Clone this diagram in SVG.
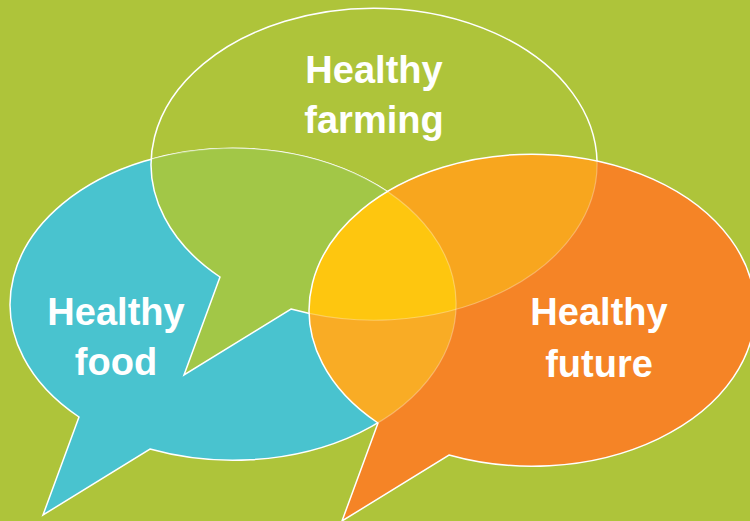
<svg xmlns="http://www.w3.org/2000/svg" width="750" height="521" viewBox="0 0 750 521">
<style>
.edge{fill:none;stroke:#fff;stroke-width:1.5}
.faint{fill:none;stroke:#fff;stroke-opacity:0.3;stroke-width:1.2}
.lbl{font-family:"Liberation Sans",Arial,sans-serif;font-weight:bold;font-size:38px;fill:#fff;text-anchor:middle}
</style>
<defs>
<path id="pBlue" d="M79,417 L43,515 L150,449 A223,156 0 1 0 79,417 Z"/>
<path id="pGreen" d="M220,277 L184,375 L291,309 A223,156 0 1 0 220,277 Z"/>
<path id="pOrange" d="M378,423 L342,521 L449,455 A223,156 0 1 0 378,423 Z"/>
<clipPath id="cBlue"><use href="#pBlue"/></clipPath>
<clipPath id="cGreen"><use href="#pGreen"/></clipPath>
<clipPath id="cOrange"><use href="#pOrange"/></clipPath>
</defs>
<rect width="750" height="521" fill="#aec43a"/>
<g id="food">
<use href="#pBlue" fill="#49c3cf"/>
<use href="#pBlue" class="edge"/>
</g>
<g id="farming">
<use href="#pGreen" fill="#a2c747" clip-path="url(#cBlue)"/>
<g clip-path="url(#cGreen)"><use href="#pBlue" class="faint" stroke="#e8d84a"/></g>
<use href="#pGreen" class="edge"/>
</g>
<g id="future">
<use href="#pOrange" fill="#f58426"/>
<g clip-path="url(#cOrange)">
<use href="#pGreen" fill="#f8a61e"/>
<use href="#pBlue" fill="#f9ac25"/>
<g clip-path="url(#cBlue)"><use href="#pGreen" fill="#fec60f"/></g>
<use href="#pGreen" class="faint"/>
<use href="#pBlue" class="faint"/>
</g>
<use href="#pOrange" class="edge"/>
</g>
<g id="labels">
<text class="lbl" x="374" y="83">Healthy</text>
<text class="lbl" x="374" y="133">farming</text>
<text class="lbl" x="116" y="325">Healthy</text>
<text class="lbl" x="116" y="375">food</text>
<text class="lbl" x="599" y="325">Healthy</text>
<text class="lbl" x="599" y="377">future</text>
</g>
</svg>
